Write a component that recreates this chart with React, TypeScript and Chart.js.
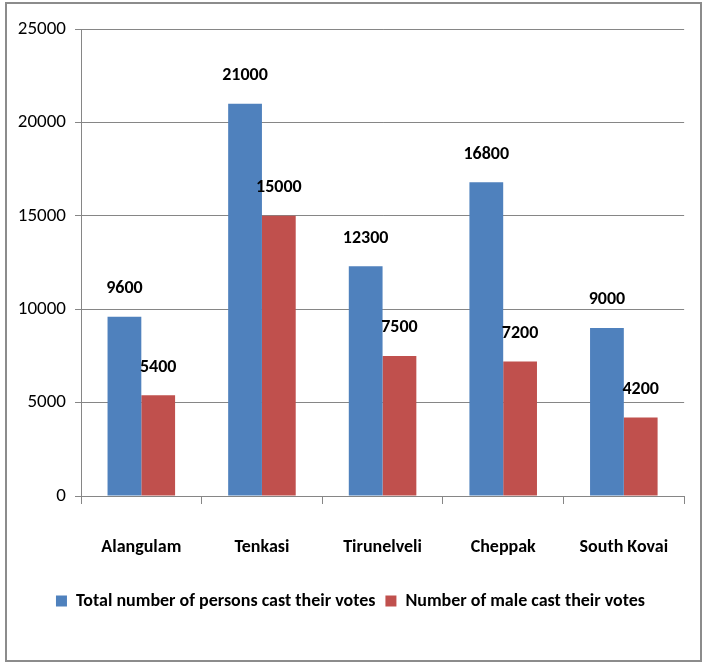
import React, { useEffect, useRef } from "react";
import { Chart, registerables } from "chart.js";

Chart.register(...registerables);

const categories = ["Alangulam", "Tenkasi", "Tirunelveli", "Cheppak", "South Kovai"];
const totalVotes = [9600, 21000, 12300, 16800, 9000];
const maleVotes = [5400, 15000, 7500, 7200, 4200];
const seriesNames = ["Total number of persons cast their votes", "Number of male cast their votes"];
const yTicks = [0, 5000, 10000, 15000, 20000, 25000];

const FONT = "Carlito, 'Liberation Sans Narrow', 'DejaVu Sans Condensed', 'Open Sans', sans-serif";

const valueLabels = {
  id: "valueLabels",
  afterDatasetsDraw(chart: any) {
    const ctx = chart.ctx;
    ctx.save();
    ctx.font = `bold 18px ${FONT}`;
    ctx.fillStyle = "#000";
    ctx.textAlign = "center";
    ctx.textBaseline = "middle";
    chart.data.datasets.forEach((ds: any, di: number) => {
      const meta = chart.getDatasetMeta(di);
      meta.data.forEach((bar: any, i: number) => {
        ctx.fillText(String(ds.data[i]), bar.x, bar.y - 28);
      });
    });
    ctx.restore();
  },
};

export default function App() {
  const ref = useRef<HTMLCanvasElement>(null);
  useEffect(() => {
    const chart = new Chart(ref.current!, {
      type: "bar",
      data: {
        labels: categories,
        datasets: [
          { label: seriesNames[0], data: totalVotes, backgroundColor: "#4F81BD", barPercentage: 1, categoryPercentage: 0.56 },
          { label: seriesNames[1], data: maleVotes, backgroundColor: "#C0504D", barPercentage: 1, categoryPercentage: 0.56 },
        ],
      },
      options: {
        animation: false,
        responsive: false,
        maintainAspectRatio: false,
        layout: { padding: { left: 8, right: 9, top: 29, bottom: 44 } },
        plugins: {
          legend: {
            position: "bottom",
            labels: {
              font: { family: FONT, size: 18, weight: "bold" },
              color: "#000",
              boxWidth: 11,
              boxHeight: 11,
              padding: 10,
            },
          },
          tooltip: { enabled: false },
        },
        scales: {
          x: {
            grid: { drawOnChartArea: false, tickLength: 8, color: "#868686" },
            border: { color: "#868686" },
            ticks: { font: { family: FONT, size: 18, weight: "bold" }, color: "#000", padding: 33 },
            afterFit(scale: any) { scale.height = 86; },
          },
          y: {
            min: 0,
            max: 25000,
            afterBuildTicks(scale: any) { scale.ticks = yTicks.map((v) => ({ value: v })); },
            grid: { color: "#868686", tickLength: 6 },
            border: { color: "#868686" },
            ticks: { font: { family: FONT, size: 19 }, color: "#000", padding: 9, callback: (v: any) => String(v) },
            afterFit(scale: any) { scale.width = 73; },
          },
        },
      },
      plugins: [valueLabels],
    });
    return () => chart.destroy();
  }, []);
  return (
    <div style={{ position: "fixed", left: 0, top: 0, width: 702, height: 664, background: "#fff" }}>
      <canvas ref={ref} width={702} height={664} style={{ position: "absolute", left: 0, top: 0 }} />
      <div style={{ position: "absolute", left: 5, top: 2, width: 693, height: 656, border: "2px solid #8c8c8c", pointerEvents: "none" }} />
    </div>
  );
}
